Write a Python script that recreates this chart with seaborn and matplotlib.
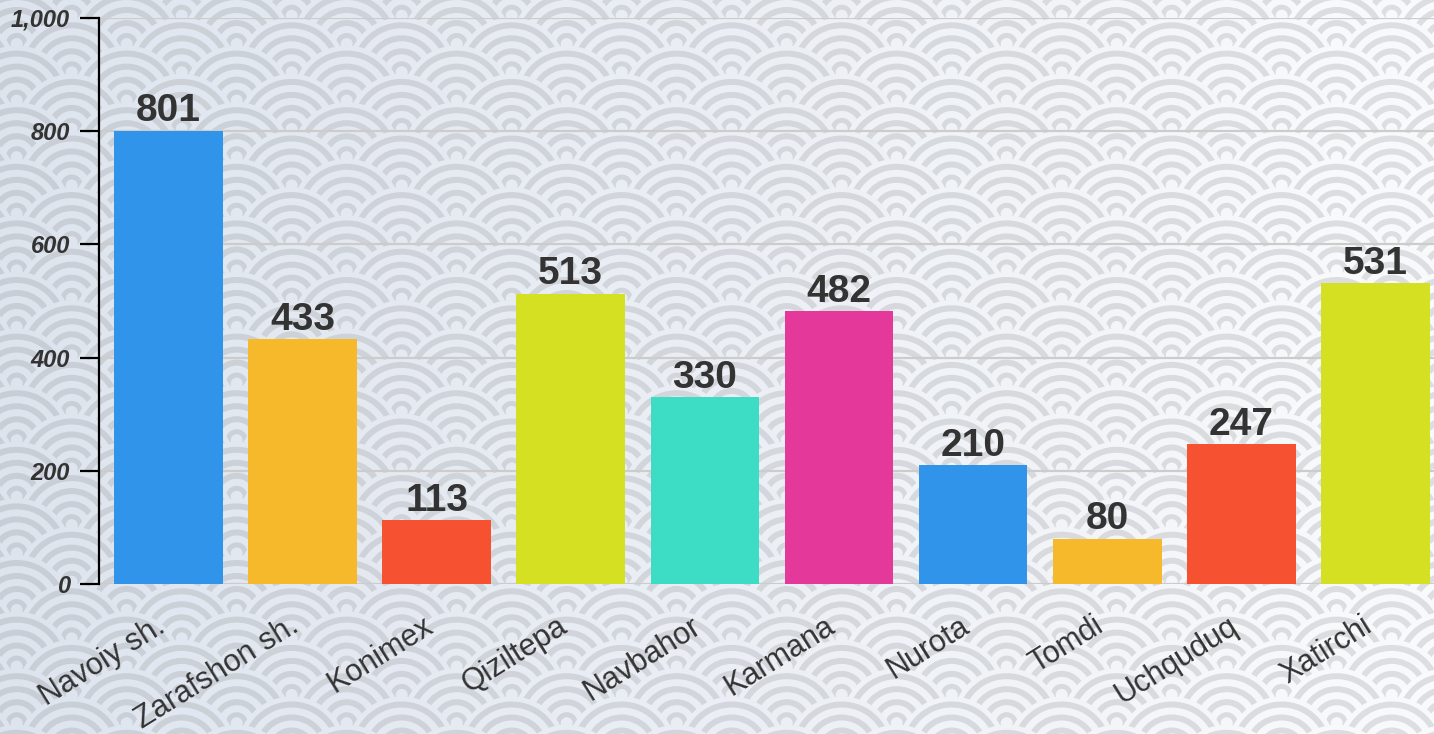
import numpy as np
import matplotlib
matplotlib.use("Agg")
import matplotlib.pyplot as plt
import matplotlib.transforms as mtransforms
from matplotlib.patches import Circle
from matplotlib.collections import PatchCollection
from matplotlib.ticker import FuncFormatter
import seaborn as sns

# ---- data ----
categories = ["Navoiy sh.", "Zarafshon sh.", "Konimex", "Qiziltepa", "Navbahor",
              "Karmana", "Nurota", "Tomdi", "Uchquduq", "Xatirchi"]
values = [801, 433, 113, 513, 330, 482, 210, 80, 247, 531]
bar_colors = ["#2F94EA", "#F6B92B", "#F65130", "#D6E022", "#3CDDC4",
              "#E4399B", "#2F94EA", "#F6B92B", "#F65130", "#D6E022"]
y_ticks = [0, 200, 400, 600, 800, 1000]

sns.set_theme(style="white")
plt.rcParams["font.family"] = ["Liberation Sans", "DejaVu Sans"]

W, H = 1434, 734
fig = plt.figure(figsize=(W / 100, H / 100), dpi=100)

# ---- decorative seigaiha background ----
bg = fig.add_axes([0, 0, 1, 1], zorder=-10)
bg.set_xlim(0, W)
bg.set_ylim(H, 0)
bg.axis("off")

def lerp(c1, c2, t):
    return tuple((np.array(c1) + (np.array(c2) - np.array(c1)) * t) / 255.0)

bg_l, bg_r = (221, 228, 238), (249, 250, 251)
rg_l, rg_r = (201, 206, 214), (221, 222, 225)
bands = [(55, 0), (50, 1), (44, 0), (37, 1), (31, 0), (24, 1), (18, 0), (11, 1), (6, 0)]
period, row_h = 110, 28.3
x0, y0 = 236.7, 44.0
patches, fcs = [], []
rows = np.arange(-3, int(H / row_h) + 4)
for m in rows:
    cy = y0 + m * row_h
    off = 0 if m % 2 == 0 else period / 2
    for k in range(-3, int(W / period) + 3):
        cx = x0 + off + k * period
        t = float(np.clip(cx / W, 0, 1))
        cbg, crg = lerp(bg_l, bg_r, t), lerp(rg_l, rg_r, t)
        for r, g in bands:
            patches.append(Circle((cx, cy), r))
            fcs.append(crg if g else cbg)
pc = PatchCollection(patches, facecolors=fcs, edgecolors="none")
bg.add_collection(pc)

# ---- main chart ----
ax = fig.add_axes([99 / W, (H - 584) / H, 1 - 99 / W, (584 - 18) / H])
ax.patch.set_alpha(0)
sns.barplot(x=categories, y=values, hue=categories, palette=bar_colors,
            legend=False, width=0.81, saturation=1, linewidth=0, ax=ax)

ax.set_xlim(-0.518, 9.437)
ax.set_ylim(0, 1000)
ax.set_yticks(y_ticks)
ax.yaxis.set_major_formatter(FuncFormatter(lambda v, p: f"{int(v):,}"))
ax.set_xlabel("")
ax.set_ylabel("")

for s in ["top", "right", "bottom"]:
    ax.spines[s].set_visible(False)
ax.spines["left"].set_color("black")
ax.spines["left"].set_linewidth(1.6)

ax.grid(axis="y", color="#cccccc", linewidth=1.6)
ax.set_axisbelow(True)

ax.tick_params(axis="y", direction="out", length=14, width=1.6, color="black",
               pad=7, labelsize=17, labelcolor="#333333", left=True)
for lbl in ax.get_yticklabels():
    lbl.set_fontweight("bold")
    lbl.set_fontstyle("italic")

ax.tick_params(axis="x", length=0, pad=33.5, labelsize=22, labelcolor="#333333")
shift = mtransforms.ScaledTranslation(-2 / 100, 0, fig.dpi_scale_trans)
for lbl in ax.get_xticklabels():
    lbl.set_rotation(32)
    lbl.set_ha("right")
    lbl.set_va("baseline")
    lbl.set_rotation_mode("anchor")
    lbl.set_transform(lbl.get_transform() + shift)

for cont in ax.containers:
    ax.bar_label(cont, fmt="%d", padding=1, fontsize=28, fontweight="bold",
                 color="#333333")

fig.savefig("out.png", dpi=100)
